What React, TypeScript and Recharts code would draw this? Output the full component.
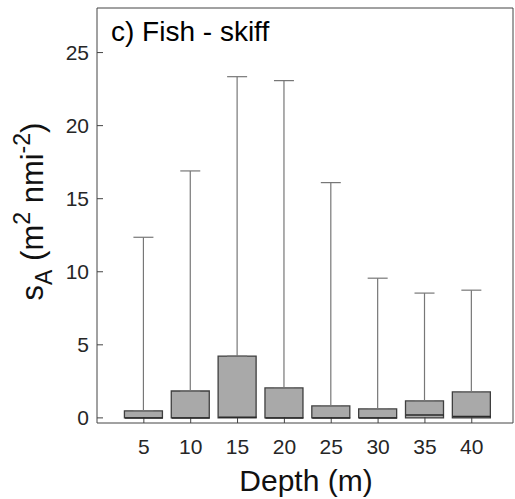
import { ComposedChart, Bar, ErrorBar, Scatter, XAxis, YAxis, Label } from 'recharts';

const depths = [5, 10, 15, 20, 25, 30, 35, 40];
const upperQuartiles = [0.48, 1.84, 4.23, 2.05, 0.82, 0.61, 1.16, 1.78];
const medians = [0, 0, 0.05, 0, 0, 0, 0.2, 0.1];
const maxima = [12.36, 16.9, 23.35, 23.08, 16.1, 9.56, 8.54, 8.74];
const yTicks = [0, 5, 10, 15, 20, 25];

const data = depths.map((d, i) => ({
  depth: d,
  q3: upperQuartiles[i],
  median: medians[i],
  whisker: [0, maxima[i] - upperQuartiles[i]],
}));

const FONT = '"Liberation Sans", Arial, Helvetica, sans-serif';
const AXIS = '#444';
const BOX_W = 38;

const MedianLine = (p: any) => (
  <line x1={p.cx - BOX_W / 2} x2={p.cx + BOX_W / 2} y1={p.cy} y2={p.cy} stroke="#2a2a2a" strokeWidth={1.5} />
);

const YTitle = (p: any) => {
  const vb = p.viewBox;
  const cy = vb.y + vb.height / 2 - 4;
  return (
    <g>
      <text transform={`translate(43,${cy}) rotate(-90)`} textAnchor="middle" fontFamily={FONT} fontSize={31} fill="#111">
        s<tspan fontSize={23} dy={9}>A</tspan>
        <tspan dy={-9}> (m</tspan>
        <tspan fontSize={23} dy={-13}>2</tspan>
        <tspan dy={13}> nmi</tspan>
        <tspan fontSize={23} dy={-13}>-2</tspan>
        <tspan dy={13}>)</tspan>
      </text>
      <text x={111} y={41} fontFamily={FONT} fontSize={28} fill="#000">c) Fish - skiff</text>
    </g>
  );
};

const XTitle = () => (
  <text x={306} y={491} textAnchor="middle" fontFamily={FONT} fontSize={30} fill="#111">Depth (m)</text>
);

export default function App() {
  return (
    <div style={{ position: 'fixed', left: 0, top: 0, background: '#fff' }}>
      <ComposedChart width={515} height={499} data={data} margin={{ top: 7, right: 1, bottom: 0, left: 0 }}>
        <XAxis
          xAxisId="b"
          dataKey="depth"
          type="number"
          domain={[0, 44.4]}
          ticks={depths}
          allowDataOverflow
          height={76}
          tickSize={-6}
          tickMargin={22}
          stroke={AXIS}
          tick={{ fill: '#262626', fontSize: 21, fontFamily: FONT }}
        >
          <Label content={XTitle} />
        </XAxis>
        <XAxis
          xAxisId="t"
          orientation="top"
          dataKey="depth"
          type="number"
          domain={[0, 44.4]}
          ticks={depths}
          allowDataOverflow
          height={1}
          tickSize={-6}
          tick={false}
          stroke={AXIS}
        />
        <YAxis
          yAxisId="l"
          type="number"
          domain={[-0.35, 28.05]}
          ticks={yTicks}
          allowDataOverflow
          width={97}
          tickSize={-6}
          tickMargin={14}
          stroke={AXIS}
          tick={{ fill: '#262626', fontSize: 21, fontFamily: FONT }}
        >
          <Label content={YTitle} />
        </YAxis>
        <YAxis
          yAxisId="r"
          orientation="right"
          type="number"
          domain={[-0.35, 28.05]}
          ticks={yTicks}
          allowDataOverflow
          width={1}
          tickSize={-6}
          tick={false}
          stroke={AXIS}
        />
        <Bar xAxisId="b" yAxisId="l" dataKey="q3" barSize={BOX_W} fill="#a9a9a9" stroke="#3f3f3f" strokeWidth={1.3} isAnimationActive={false}>
          <ErrorBar dataKey="whisker" direction="y" width={10} stroke="#777" strokeWidth={1.2} />
        </Bar>
        <Scatter xAxisId="b" yAxisId="l" dataKey="median" shape={MedianLine} isAnimationActive={false} />
      </ComposedChart>
    </div>
  );
}
